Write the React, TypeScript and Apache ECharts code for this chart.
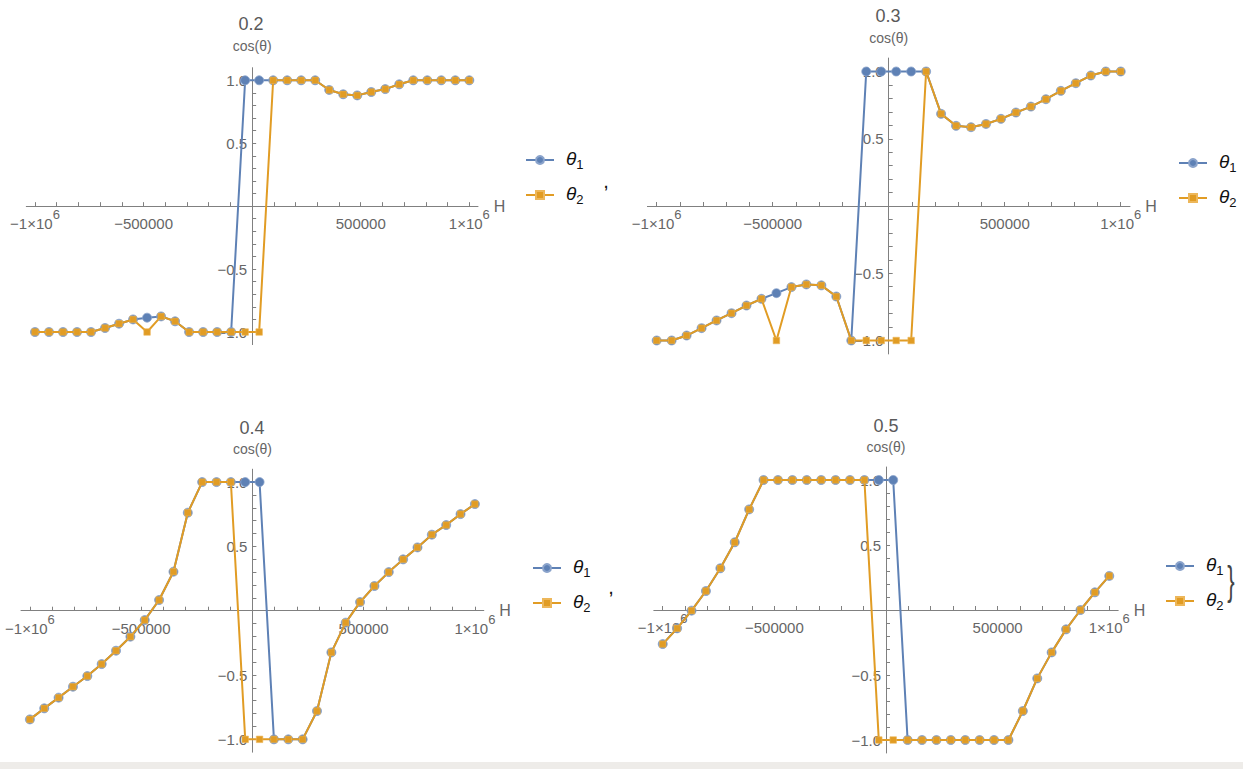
import React, { useEffect, useRef } from "react";
import * as echarts from "echarts";

// ---------- data ----------
const H = [
  -1000000, -935484, -870968, -806452, -741935, -677419, -612903, -548387,
  -483871, -419355, -354839, -290323, -225806, -161290, -96774, -32258,
  32258, 96774, 161290, 225806, 290323, 354839, 419355, 483871,
  548387, 612903, 677419, 741935, 806452, 870968, 935484, 1000000,
];

const P02_THETA1 = [
  -1, -1, -1, -1, -1, -0.968, -0.934, -0.9, -0.886, -0.876, -0.915, -1, -1, -1, -1, 1,
  1, 1, 1, 1, 1, 0.923, 0.889, 0.88, 0.907, 0.93, 0.968, 1, 1, 1, 1, 1,
];
const P02_THETA2 = [
  -1, -1, -1, -1, -1, -0.968, -0.934, -0.9, -1, -0.876, -0.915, -1, -1, -1, -1, -1,
  -1, 1, 1, 1, 1, 0.923, 0.889, 0.88, 0.907, 0.93, 0.968, 1, 1, 1, 1, 1,
];

const P03_THETA1 = [
  -1, -1, -0.963, -0.908, -0.851, -0.797, -0.74, -0.69, -0.648, -0.603, -0.583, -0.59, -0.673, -1, 1, 1,
  1, 1, 1, 0.685, 0.596, 0.586, 0.61, 0.648, 0.695, 0.739, 0.794, 0.856, 0.913, 0.97, 1, 1,
];
const P03_THETA2 = [
  -1, -1, -0.963, -0.908, -0.851, -0.797, -0.74, -0.69, -1, -0.603, -0.583, -0.59, -0.673, -1, -1, -1,
  -1, -1, 1, 0.685, 0.596, 0.586, 0.61, 0.648, 0.695, 0.739, 0.794, 0.856, 0.913, 0.97, 1, 1,
];

const P04_THETA1 = [
  -0.845, -0.759, -0.676, -0.591, -0.508, -0.415, -0.311, -0.202, -0.073, 0.083, 0.303, 0.762, 1, 1, 1, 1,
  1, -1, -1, -1, -0.78, -0.324, -0.093, 0.067, 0.192, 0.3, 0.399, 0.492, 0.591, 0.666, 0.751, 0.829,
];
const P04_THETA2 = [
  -0.845, -0.759, -0.676, -0.591, -0.508, -0.415, -0.311, -0.202, -0.073, 0.083, 0.303, 0.762, 1, 1, 1, -1,
  -1, -1, -1, -1, -0.78, -0.324, -0.093, 0.067, 0.192, 0.3, 0.399, 0.492, 0.591, 0.666, 0.751, 0.829,
];

const P05_THETA1 = [
  -0.262, -0.141, -0.005, 0.146, 0.321, 0.521, 0.774, 1, 1, 1, 1, 1, 1, 1, 1, 1,
  1, -1, -1, -1, -1, -1, -1, -1, -1, -0.777, -0.526, -0.326, -0.149, 0, 0.136, 0.262,
];
const P05_THETA2 = [
  -0.262, -0.141, -0.005, 0.146, 0.321, 0.521, 0.774, 1, 1, 1, 1, 1, 1, 1, 1, -1,
  -1, -1, -1, -1, -1, -1, -1, -1, -1, -0.777, -0.526, -0.326, -0.149, 0, 0.136, 0.262,
];

const PANEL_TITLES = ["0.2", "0.3", "0.4", "0.5"];
const SERIES_NAMES = ["θ1", "θ2"];
const THETA1 = [P02_THETA1, P03_THETA1, P04_THETA1, P05_THETA1];
const THETA2 = [P02_THETA2, P03_THETA2, P04_THETA2, P05_THETA2];

const X_LABEL_VALUES = [-1000000, -500000, 500000, 1000000];
const X_TICK_VALUES = [
  -1000000, -900000, -800000, -700000, -600000, -500000, -400000, -300000, -200000, -100000,
  100000, 200000, 300000, 400000, 500000, 600000, 700000, 800000, 900000, 1000000,
];
const Y_LABEL_VALUES = [-1, -0.5, 0.5, 1];
const Y_TICK_VALUES = [
  -1, -0.9, -0.8, -0.7, -0.6, -0.5, -0.4, -0.3, -0.2, -0.1,
  0.1, 0.2, 0.3, 0.4, 0.5, 0.6, 0.7, 0.8, 0.9, 1,
];

// ---------- layout / style ----------
const LAYOUT = [
  { grid: [26.3, 67.7, 451.7, 276.9], title: [251, 24], legend: [525, 149], nameGap: 15 },
  { grid: [647.4, 58.05, 482.6, 295.9], title: [888, 16], legend: [1178, 152], nameGap: 13 },
  { grid: [21, 469.2, 462.8, 283], title: [252, 428], legend: [532, 557], nameGap: 13 },
  { grid: [653.8, 467, 464.4, 286], title: [886, 426], legend: [1165, 555], nameGap: 13 },
];

const BLUE = "#5E81B5";
const ORANGE = "#E19C24";
const AXIS = "#808080";
const LABEL = "#666666";
const FONT = "'Liberation Sans', Arial, sans-serif";
const MINUS = "\u2212";

function xLabel(v: number): string {
  const sign = v < 0 ? MINUS : "";
  if (Math.abs(v) === 1000000) return `{b|${sign}1×10}{sup|6}`;
  return `{b|${sign}${Math.abs(v)}}`;
}
function yLabel(v: number): string {
  const s = Math.abs(v).toFixed(1);
  return v < 0 ? MINUS + s : s;
}

export default function App() {
  const ref = useRef<HTMLDivElement>(null);

  useEffect(() => {
    if (!ref.current) return;
    const chart = echarts.init(ref.current, undefined, { renderer: "svg" });

    const grid = LAYOUT.map((l) => ({
      left: l.grid[0],
      top: l.grid[1],
      width: l.grid[2],
      height: l.grid[3],
      containLabel: false,
      outerBoundsMode: "none",
    }));

    // the ranges are symmetric, so zero lies in the middle of each grid
    const xAxis = LAYOUT.map((l, i) => ({
      type: "value",
      gridIndex: i,
      position: "bottom",
      offset: -l.grid[3] / 2,
      min: -1040000,
      max: 1040000,
      name: "H",
      nameLocation: "end",
      nameGap: 13,
      nameTextStyle: { color: LABEL, fontSize: 16, fontFamily: FONT },
      splitLine: { show: false },
      axisLine: { show: true, onZero: false, lineStyle: { color: AXIS, width: 1 } },
      axisTick: {
        show: true,
        inside: true,
        length: 4,
        customValues: X_TICK_VALUES,
        lineStyle: { color: AXIS, width: 1 },
      },
      axisLabel: {
        show: true,
        margin: 2,
        customValues: X_LABEL_VALUES,
        formatter: xLabel,
        rich: {
          b: { fontSize: 15, color: LABEL, fontFamily: FONT, padding: [8, 0, 0, 0], verticalAlign: "bottom" },
          sup: { fontSize: 13, color: LABEL, fontFamily: FONT, verticalAlign: "top" },
        },
      },
    }));

    const yAxis = LAYOUT.map((l, i) => ({
      type: "value",
      gridIndex: i,
      position: "left",
      offset: -l.grid[2] / 2,
      min: -1.1,
      max: 1.1,
      name: "cos(θ)",
      nameLocation: "end",
      nameGap: l.nameGap,
      nameTextStyle: { color: LABEL, fontSize: 14, fontFamily: FONT },
      splitLine: { show: false },
      axisLine: { show: true, onZero: false, lineStyle: { color: AXIS, width: 1 } },
      axisTick: {
        show: true,
        inside: true,
        length: 4,
        customValues: Y_TICK_VALUES,
        lineStyle: { color: AXIS, width: 1 },
      },
      axisLabel: {
        show: true,
        margin: 5,
        customValues: Y_LABEL_VALUES,
        formatter: yLabel,
        color: LABEL,
        fontSize: 15,
        fontFamily: FONT,
      },
    }));

    const series: any[] = [];
    LAYOUT.forEach((_, i) => {
      series.push({
        type: "line",
        name: SERIES_NAMES[0],
        xAxisIndex: i,
        yAxisIndex: i,
        data: H.map((h, k) => [h, THETA1[i][k]]),
        symbol: "circle",
        symbolSize: 9,
        showSymbol: true,
        lineStyle: { color: BLUE, width: 2 },
        itemStyle: { color: BLUE, borderColor: "#8AA3CB", borderWidth: 0.8 },
        z: 2,
      });
      series.push({
        type: "line",
        name: SERIES_NAMES[1],
        xAxisIndex: i,
        yAxisIndex: i,
        data: H.map((h, k) => [h, THETA2[i][k]]),
        symbol: "rect",
        symbolSize: 6.5,
        showSymbol: true,
        lineStyle: { color: ORANGE, width: 2 },
        itemStyle: { color: ORANGE, borderColor: "#EDB75A", borderWidth: 0.6 },
        z: 3,
      });
    });

    const legend = LAYOUT.map((l) => ({
      orient: "vertical",
      left: l.legend[0],
      top: l.legend[1],
      padding: 0,
      itemGap: 13,
      itemWidth: 28,
      itemHeight: 10,
      selectedMode: false,
      data: SERIES_NAMES,
      formatter: (n: string) => `{t|θ}{s|${n.slice(1)}}`,
      textStyle: {
        rich: {
          t: {
            fontSize: 19,
            fontStyle: "italic",
            color: "#111",
            fontFamily: FONT,
            padding: [0, 0, 3, 7],
            verticalAlign: "bottom",
          },
          s: { fontSize: 13, color: "#111", fontFamily: FONT, verticalAlign: "bottom" },
        },
      },
    }));

    const graphic: any[] = [];
    LAYOUT.forEach((l, i) => {
      graphic.push({
        type: "text",
        x: l.title[0],
        y: l.title[1],
        style: {
          text: PANEL_TITLES[i],
          fill: "#5a5a5a",
          fontSize: 18,
          fontFamily: FONT,
          textAlign: "center",
          textVerticalAlign: "middle",
        },
      });
    });
    graphic.push({
      type: "text",
      x: 606,
      y: 181,
      style: { text: ",", fill: "#111", fontSize: 20, fontFamily: FONT, textAlign: "center", textVerticalAlign: "middle" },
    });
    graphic.push({
      type: "text",
      x: 611,
      y: 587,
      style: { text: ",", fill: "#111", fontSize: 20, fontFamily: FONT, textAlign: "center", textVerticalAlign: "middle" },
    });
    graphic.push({
      type: "text",
      x: 1231,
      y: 581,
      scaleX: 0.55,
      style: { text: "}", fill: "#444", fontSize: 40, fontFamily: FONT, textAlign: "center", textVerticalAlign: "middle" },
    });
    graphic.push({
      type: "rect",
      shape: { x: 0, y: 762, width: 1243, height: 7 },
      style: { fill: "#EEECE9" },
      z: -1,
    });

    chart.setOption({
      animation: false,
      backgroundColor: "#ffffff",
      grid,
      xAxis,
      yAxis,
      legend,
      series,
      graphic,
    });

    return () => chart.dispose();
  }, []);

  return (
    <div
      ref={ref}
      style={{ position: "fixed", left: 0, top: 0, width: 1243, height: 769, background: "#fff" }}
    />
  );
}
